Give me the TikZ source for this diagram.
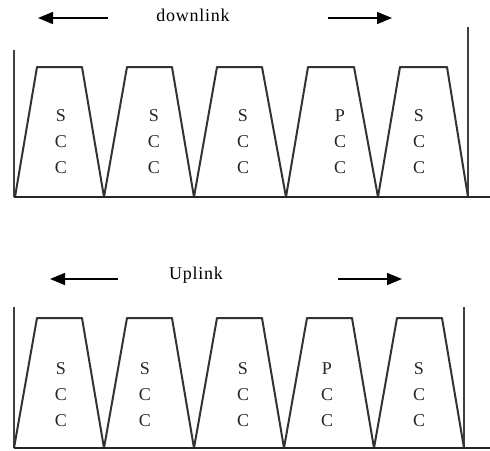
\documentclass[tikz,border=0pt]{standalone}
\usepackage{fontspec}
\setmainfont{Liberation Serif}
\usetikzlibrary{arrows.meta}
\begin{document}
\begin{tikzpicture}[x=1pt,y=-1pt,
  trapline/.style={draw=black!80, line width=2pt, line join=round},
  baseln/.style={draw=black!85, line width=2.2pt},
  vline/.style={draw=black!75, line width=1.5pt},
  dirarrow/.style={draw=black, line width=1.5pt, -{Triangle[length=15pt,width=12pt]}},
  lbl/.style={font=\fontsize{18}{26}\selectfont, align=center, inner sep=0pt, text=black!85},
  ttl/.style={font=\fontsize{18}{20}\selectfont\addfontfeature{LetterSpace=4}, inner sep=0pt}]
\useasboundingbox (0,0) rectangle (490,450);
% ---------- top (downlink) ----------
\draw[vline] (14,50) -- (14,197);
\draw[vline] (468,27) -- (468,197);
\draw[trapline] (15,197) -- (37,67) -- (82,67) -- (104,197) -- (127,67) -- (172,67) -- (194,197)
  -- (217,67) -- (262,67) -- (286,197) -- (308,67) -- (354,67) -- (378,197)
  -- (400,67) -- (447,67) -- (468,197);
\draw[baseln] (14,197) -- (490,197);
\node[lbl] (t1) at (61,142) {S\\C\\C};
\node[lbl] (t2) at (154,142) {S\\C\\C};
\node[lbl] (t3) at (243,142) {S\\C\\C};
\node[lbl] (t4) at (340,142) {P\\C\\C};
\node[lbl] (t5) at (419,142) {S\\C\\C};
\node[ttl] (dl) at (193,15) {downlink};
\coordinate (dla) at (108,18);
\coordinate (dlb) at (38,18);
\coordinate (dlc) at (328,18);
\coordinate (dld) at (392,18);
\draw[dirarrow] (dla) -- (dlb);
\draw[dirarrow] (dlc) -- (dld);
% ---------- bottom (uplink) ----------
\draw[vline] (14,307) -- (14,448);
\draw[vline] (464,307) -- (464,448);
\draw[trapline] (14,448) -- (37,318) -- (82,318) -- (104,448) -- (127,318) -- (172,318) -- (194,448)
  -- (217,318) -- (262,318) -- (284,448) -- (307,318) -- (352,318) -- (374,448)
  -- (397,318) -- (442,318) -- (464,448);
\draw[baseln] (14,448) -- (490,448);
\node[lbl] (b1) at (61,395) {S\\C\\C};
\node[lbl] (b2) at (145,395) {S\\C\\C};
\node[lbl] (b3) at (243,395) {S\\C\\C};
\node[lbl] (b4) at (327,395) {P\\C\\C};
\node[lbl] (b5) at (419,395) {S\\C\\C};
\node[ttl] (ul) at (196,275) {Uplink};
\coordinate (ula) at (118,279);
\coordinate (ulb) at (50,279);
\coordinate (ulc) at (338,279);
\coordinate (uld) at (402,279);
\draw[dirarrow] (ula) -- (ulb);
\draw[dirarrow] (ulc) -- (uld);
\end{tikzpicture}
\end{document}
